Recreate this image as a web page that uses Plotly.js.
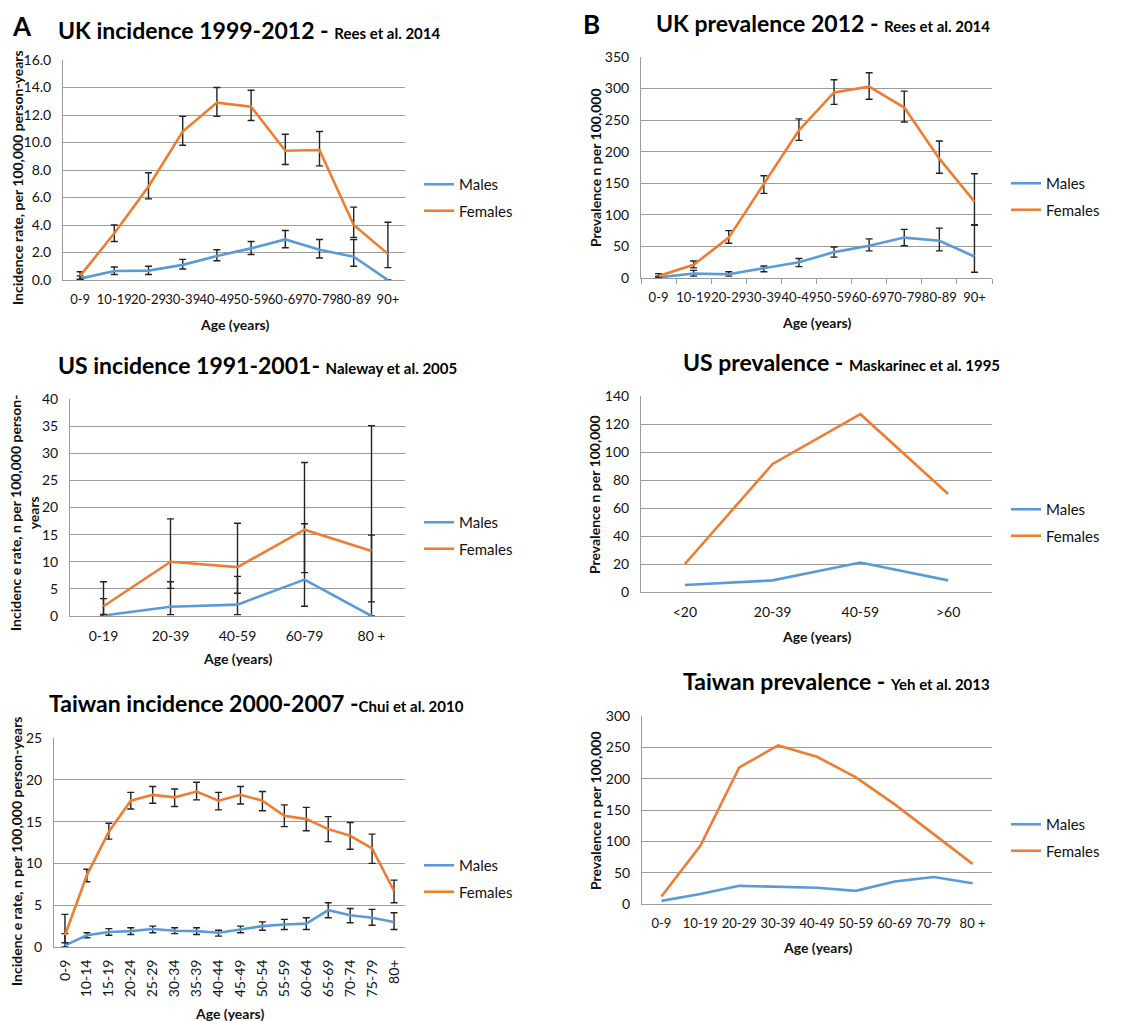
<!DOCTYPE html>
<html>
<head>
<meta charset="utf-8">
<script src="https://cdn.plot.ly/plotly-3.0.1.min.js"></script>
<style>html,body{margin:0;padding:0;background:#fff;}#chart{width:1132px;height:1021px;}</style>
</head>
<body>
<div id="chart"></div>
<script>
// ---------- DATA ----------
const ukIncAges = ['0-9','10-19','20-29','30-39','40-49','50-59','60-69','70-79','80-89','90+'];
const ukIncF   = [0.3, 3.4, 6.8, 10.8, 12.9, 12.6, 9.4, 9.45, 4.0, 1.9];
const ukIncFhi = [0.6, 4.0, 7.8, 11.9, 14.0, 13.8, 10.6, 10.8, 5.3, 4.2];
const ukIncFlo = [0.05, 2.8, 5.9, 9.8, 11.9, 11.6, 8.4, 8.3, 3.1, 0.9];
const ukIncM   = [0.1, 0.65, 0.68, 1.1, 1.75, 2.3, 2.95, 2.2, 1.7, 0.0];
const ukIncMhi = [0.3, 0.95, 1.0, 1.5, 2.2, 2.8, 3.6, 2.95, 2.95, 0.0];
const ukIncMlo = [0.0, 0.4, 0.4, 0.8, 1.4, 1.85, 2.35, 1.6, 1.0, 0.0];

const ukPrevAges = ['0-9','10-19','20-29','30-39','40-49','50-59','60-69','70-79','80-89','90+'];
const ukPrevF   = [3, 21, 64, 148, 234, 294, 303, 270, 189, 121];
const ukPrevFhi = [7, 27, 75, 162, 252, 314, 325, 296, 217, 165];
const ukPrevFlo = [0, 16, 55, 134, 218, 275, 283, 247, 166, 84];
const ukPrevM   = [1, 7, 6, 15, 25, 41, 51, 64, 59, 34];
const ukPrevMhi = [3, 12, 10, 19, 31, 49, 62, 77, 79, 84];
const ukPrevMlo = [0, 3, 3, 10, 18, 33, 43, 51, 43, 9];

const usIncAges = ['0-19','20-39','40-59','60-79','80 +'];
const usIncF   = [1.8, 10.0, 9.0, 15.9, 12.0];
const usIncFhi = [6.3, 17.9, 17.1, 28.3, 35.1];
const usIncFlo = [0.3, 5.1, 4.2, 8.0, 2.6];
const usIncM   = [0.1, 1.7, 2.1, 6.7, 0.0];
const usIncMhi = [3.2, 6.3, 7.3, 17.0, 14.9];
const usIncMlo = [0.0, 0.25, 0.25, 1.8, 0.0];

const usPrevAges = ['<20','20-39','40-59','>60'];
const usPrevF = [20, 91.5, 127, 70];
const usPrevM = [5, 8.3, 21, 8.3];

const twIncAges = ['0-9','10-14','15-19','20-24','25-29','30-34','35-39','40-44','45-49','50-54','55-59','60-64','65-69','70-74','75-79','80+'];
const twIncF   = [1.4, 8.6, 13.8, 17.5, 18.2, 17.9, 18.6, 17.5, 18.2, 17.5, 15.7, 15.3, 14.1, 13.3, 11.8, 6.7];
const twIncFhi = [3.9, 9.3, 14.8, 18.5, 19.2, 18.9, 19.7, 18.5, 19.2, 18.6, 17.0, 16.7, 15.6, 14.9, 13.5, 8.0];
const twIncFlo = [0.5, 7.8, 12.9, 16.5, 17.2, 16.8, 17.6, 16.4, 17.1, 16.3, 14.4, 13.9, 12.6, 11.7, 10.0, 5.3];
const twIncM   = [0.2, 1.4, 1.8, 1.9, 2.15, 1.95, 1.9, 1.7, 2.1, 2.5, 2.7, 2.8, 4.4, 3.8, 3.5, 3.0];
const twIncMhi = [1.6, 1.7, 2.2, 2.3, 2.5, 2.3, 2.3, 2.0, 2.5, 3.0, 3.3, 3.5, 5.3, 4.6, 4.5, 4.1];
const twIncMlo = [0.0, 1.1, 1.4, 1.5, 1.7, 1.6, 1.5, 1.3, 1.7, 2.0, 2.1, 2.1, 3.5, 2.9, 2.6, 2.1];

const twPrevAges = ['0-9','10-19','20-29','30-39','40-49','50-59','60-69','70-79','80 +'];
const twPrevF = [12, 93, 218, 253, 235, 202, 159, 111, 64];
const twPrevM = [5, 16, 29, 28, 26, 21, 36, 43, 33];

const seriesNames = ['Males', 'Females'];

// ---------- STYLE / LAYOUT ----------
const W = 1132, H = 1021;
const FONT = 'Lato, "Open Sans", sans-serif';
const C_M = '#5B9BD5', C_F = '#ED7D31';
const GRID = '#9c9c9c';
const px = (a, b) => [a / W, b / W];
const py = (top, bot) => [1 - bot / H, 1 - top / H];

const panels = [
  {cats: ukIncAges, f: ukIncF, fhi: ukIncFhi, flo: ukIncFlo, m: ukIncM, mhi: ukIncMhi, mlo: ukIncMlo,
   x: [63, 405], y: [60, 280], ymax: 16, dtick: 2, fmt: '.1f', ticks: false, xfs: 13,
   title: 'UK incidence 1999-2012 - ', tx: 56, ty: 30, sub: 'Rees et al. 2014',
   ytitle: 'Incidence rate, per 100,000 person-years', ytx: 17, yty: 178,
   xty: 324, leg: [427, 183]},
  {cats: ukPrevAges, f: ukPrevF, fhi: ukPrevFhi, flo: ukPrevFlo, m: ukPrevM, mhi: ukPrevMhi, mlo: ukPrevMlo,
   x: [641, 992], y: [57, 278], ymax: 350, dtick: 50, fmt: 'd', ticks: true, xfs: 13,
   title: 'UK prevalence 2012 - ', tx: 654, ty: 23, sub: 'Rees et al. 2014',
   ytitle: 'Prevalence n per 100,000', ytx: 595, yty: 168,
   xty: 322, leg: [1014, 182]},
  {cats: usIncAges, f: usIncF, fhi: usIncFhi, flo: usIncFlo, m: usIncM, mhi: usIncMhi, mlo: usIncMlo,
   x: [70, 405], y: [399, 616], ymax: 40, dtick: 5, fmt: 'd', ticks: false, xfs: 14,
   title: 'US incidence 1991-2001- ', tx: 56, ty: 365, sub: 'Naleway et al. 2005',
   ytitle: 'Incidenc e rate, n per 100,000 person-<br>years', ytx: 24, yty: 513,
   xty: 658, leg: [427, 521]},
  {cats: usPrevAges, f: usPrevF, m: usPrevM,
   x: [641, 992], y: [396, 592], ymax: 140, dtick: 20, fmt: 'd', ticks: false, xfs: 14,
   title: 'US prevalence - ', tx: 681, ty: 362, sub: 'Maskarinec et al. 1995',
   ytitle: 'Prevalence n per 100,000', ytx: 595, yty: 495,
   xty: 636, leg: [1014, 508]},
  {cats: twIncAges, f: twIncF, fhi: twIncFhi, flo: twIncFlo, m: twIncM, mhi: twIncMhi, mlo: twIncMlo,
   x: [54, 405], y: [738, 947], ymax: 25, dtick: 5, fmt: 'd', ticks: false, rot: true, xfs: 14,
   title: 'Taiwan incidence 2000-2007 -', tx: 47, ty: 703, sub: 'Chui et al. 2010',
   ytitle: 'Incidenc e rate, n per 100,000 person-years', ytx: 16, yty: 851,
   xty: 1013, leg: [427, 864]},
  {cats: twPrevAges, f: twPrevF, m: twPrevM,
   x: [642, 992], y: [716, 904], ymax: 300, dtick: 50, fmt: 'd', ticks: false, xfs: 13,
   title: 'Taiwan prevalence - ', tx: 681, ty: 681, sub: 'Yeh et al. 2013',
   ytitle: 'Prevalence n per 100,000', ytx: 595, yty: 811,
   xty: 947, leg: [1014, 823]}
];

const traces = [];
const layout = {
  width: W, height: H,
  margin: {l: 0, r: 0, t: 0, b: 0},
  paper_bgcolor: '#fff', plot_bgcolor: '#fff',
  font: {family: FONT, color: '#111', size: 13},
  hovermode: false,
  annotations: [],
};

function errObj(v, hi, lo) {
  if (!hi) return undefined;
  return {
    type: 'data', symmetric: false,
    array: hi.map((h, i) => Math.max(0, h - v[i])),
    arrayminus: lo.map((l, i) => Math.max(0, v[i] - l)),
    color: '#222', thickness: 1.4, width: 3.5
  };
}

panels.forEach((p, i) => {
  const n = i + 1;
  const xa = n === 1 ? 'x' : 'x' + n;
  const ya = n === 1 ? 'y' : 'y' + n;
  const lg = n === 1 ? 'legend' : 'legend' + n;
  const vals = [[p.m, p.mhi, p.mlo, C_M], [p.f, p.fhi, p.flo, C_F]];
  vals.forEach((s, k) => {
    traces.push({
      type: 'scatter', mode: 'lines', x: p.cats, y: s[0],
      name: seriesNames[k], xaxis: xa, yaxis: ya, legend: lg,
      legendgroup: 'g' + n + '_' + k,
      line: {color: s[3], width: 2.6},
      error_y: errObj(s[0], s[1], s[2]),
      cliponaxis: false
    });
  });
  layout['xaxis' + (n === 1 ? '' : n)] = {
    domain: px(p.x[0], p.x[1]), anchor: ya, type: 'category',
    range: [-0.5, p.cats.length - 0.5], fixedrange: true,
    showgrid: false, zeroline: false,
    showline: true, linecolor: GRID, linewidth: 1,
    ticks: p.ticks ? 'outside' : '', tickson: 'boundaries', ticklen: 5, tickcolor: GRID,
    tickangle: p.rot ? -90 : 0,
    tickfont: {family: FONT, size: p.xfs, color: '#111'},
    ticklabelstandoff: p.rot ? 6 : 7
  };
  layout['yaxis' + (n === 1 ? '' : n)] = {
    domain: py(p.y[0], p.y[1]), anchor: xa,
    range: [0, p.ymax], dtick: p.dtick, tickformat: p.fmt, fixedrange: true,
    showgrid: true, gridcolor: GRID, gridwidth: 1, zeroline: false,
    showline: true, linecolor: GRID, linewidth: 1, ticks: '',
    tickfont: {family: FONT, size: 14, color: '#111'},
    ticklabelstandoff: 8
  };
  layout[lg] = {
    x: (p.leg[0] - 8) / W, y: 1 - (p.leg[1] - 15) / H, xanchor: 'left', yanchor: 'top',
    xref: 'paper', yref: 'paper',
    bgcolor: 'rgba(0,0,0,0)', borderwidth: 0,
    font: {family: FONT, size: 15, color: '#111'},
    traceorder: 'grouped', tracegroupgap: 4, itemwidth: 30
  };
  const A = layout.annotations;
  A.push({xref: 'paper', yref: 'paper', x: p.tx / W, y: 1 - p.ty / H, xanchor: 'left', yanchor: 'middle',
          text: p.title + '<span style="font-size:15px">' + p.sub + '</span>', showarrow: false,
          font: {family: FONT, size: 23, weight: 700, color: '#000'}});
  A.push({xref: 'paper', yref: 'paper', x: p.ytx / W, y: 1 - p.yty / H, xanchor: 'center', yanchor: 'middle',
          text: p.ytitle, textangle: -90, showarrow: false, font: {family: FONT, size: 14, weight: 700, color: '#111'}});
  A.push({xref: 'paper', yref: 'paper', x: ((p.x[0] + p.x[1]) / 2) / W, y: 1 - p.xty / H, xanchor: 'center', yanchor: 'middle',
          text: 'Age (years)', showarrow: false, font: {family: FONT, size: 14, weight: 700, color: '#111'}});
});

layout.annotations.push({xref: 'paper', yref: 'paper', x: 22 / W, y: 1 - 26 / H, xanchor: 'center', yanchor: 'middle',
  text: 'A', showarrow: false, font: {family: FONT, size: 26, weight: 700, color: '#000'}});
layout.annotations.push({xref: 'paper', yref: 'paper', x: 591 / W, y: 1 - 24 / H, xanchor: 'center', yanchor: 'middle',
  text: 'B', showarrow: false, font: {family: FONT, size: 26, weight: 700, color: '#000'}});

Plotly.newPlot('chart', traces, layout, {staticPlot: true, displayModeBar: false});
</script>
</body>
</html>
